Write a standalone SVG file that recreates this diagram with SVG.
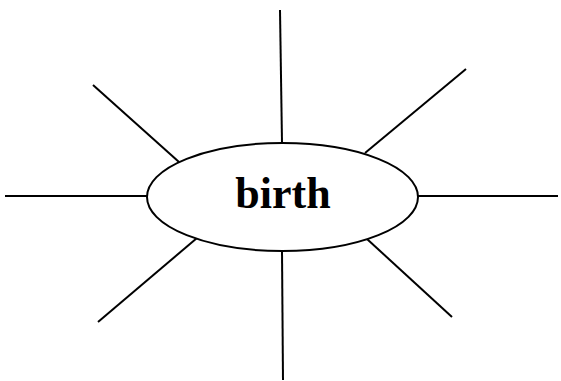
<svg xmlns="http://www.w3.org/2000/svg" width="561" height="381" viewBox="0 0 561 381">
<style>
.ln{stroke:#000;stroke-width:2;fill:none}
.nd{stroke:#000;stroke-width:2;fill:#fff}
.lb{font-family:"Liberation Serif","Times New Roman",serif;font-weight:bold;font-size:44px;fill:#000;text-anchor:middle}
</style>
<rect width="561" height="381" fill="#fff"/>
<g id="connectors">
<line class="ln" x1="280" y1="10" x2="282" y2="143"/>
<line class="ln" x1="282" y1="251" x2="283" y2="380"/>
<line class="ln" x1="5" y1="196" x2="147" y2="196"/>
<line class="ln" x1="418" y1="196" x2="558" y2="196"/>
<line class="ln" x1="93" y1="85" x2="179" y2="162"/>
<line class="ln" x1="466" y1="69" x2="365" y2="153"/>
<line class="ln" x1="197" y1="238" x2="98" y2="322"/>
<line class="ln" x1="367" y1="239" x2="452" y2="317"/>
</g>
<g id="birth">
<ellipse class="nd" cx="282.5" cy="197" rx="135.5" ry="54"/>
<text class="lb" x="283" y="208">birth</text>
</g>
</svg>
